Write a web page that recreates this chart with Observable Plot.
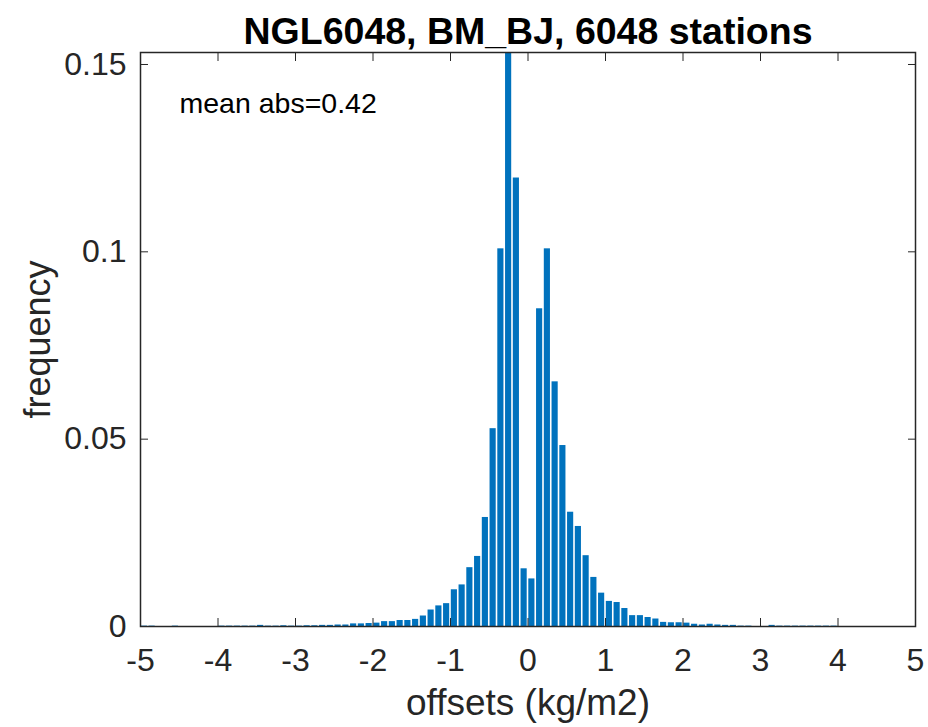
<!DOCTYPE html>
<html><head><meta charset="utf-8">
<script src="https://cdn.jsdelivr.net/npm/d3@7"></script>
<script src="https://cdn.jsdelivr.net/npm/@observablehq/plot@0.6"></script>
<style>body{margin:0;background:#fff}</style>
</head><body><div id="chart"></div>
<script>
const titleText = "NGL6048, BM_BJ, 6048 stations";
const xLabel = "offsets (kg/m2)";
const yLabel = "frequency";
const note = "mean abs=0.42";
const xTicks = [-5, -4, -3, -2, -1, 0, 1, 2, 3, 4, 5];
const yTicks = [0, 0.05, 0.1, 0.15];
// bin left edges -5.0 ... -0.1
const freqNeg = [0.0001, 0.0001, 0, 0, 0.0001, 0, 0, 0, 0, 0,
  0.0001, 0.0001, 0.0001, 0.0001, 0.0001, 0.0003, 0.0001, 0.0001, 0.0002, 0.0001,
  0.0001, 0.0002, 0.0002, 0.0003, 0.0003, 0.0004, 0.0004, 0.0007, 0.0007, 0.0008,
  0.0009, 0.0013, 0.0013, 0.0016, 0.0016, 0.0019, 0.0028, 0.0044, 0.0055, 0.0061,
  0.0098, 0.0111, 0.0157, 0.0187, 0.0291, 0.0528, 0.1008, 0.1532, 0.1197, 0.0154];
// bin left edges 0.0 ... 4.9
const freqPos = [0.0127, 0.0848, 0.1008, 0.0653, 0.0483, 0.0305, 0.0267, 0.0189, 0.0131, 0.0089,
  0.0067, 0.0064, 0.0048, 0.0029, 0.0029, 0.0024, 0.0020, 0.0011, 0.0010, 0.0010,
  0.0009, 0.0006, 0.0004, 0.0006, 0.0004, 0.0003, 0.0003, 0.0001, 0.0001, 0,
  0, 0.0003, 0.0001, 0.0001, 0.0001, 0.0001, 0.0001, 0.0001, 0.0001, 0.0001,
  0, 0, 0, 0, 0, 0, 0, 0, 0, 0];
const binWidth = 0.1;
const freq = freqNeg.concat(freqPos);
const data = freq.map((f, i) => ({x1: -5 + i * binWidth, x2: -5 + (i + 1) * binWidth, f}));

const font = "Liberation Sans, Arial, Helvetica, sans-serif";
const ink = "#262626";
const chart = Plot.plot({
  width: 928, height: 727,
  marginLeft: 140, marginRight: 13, marginTop: 52, marginBottom: 101,
  style: {fontFamily: font, fontSize: "32px", color: ink, background: "#fff", overflow: "visible"},
  x: {domain: [-5, 5]},
  y: {domain: [0, 0.1532]},
  marks: [
    Plot.rectY(data, {x1: "x1", x2: "x2", y: "f", fill: "#0072BD", insetLeft: 0.8, insetRight: 0.8}),
    Plot.axisX({ticks: xTicks, tickSize: -8, tickPadding: 30, tickFormat: d => String(d), label: null, fontSize: 32, stroke: ink}),
    Plot.axisX({anchor: "top", ticks: xTicks, tickSize: -8, tickFormat: () => "", label: null, stroke: ink}),
    Plot.axisY({ticks: yTicks, tickSize: -8, tickPadding: 22, tickFormat: d => String(d), label: null, fontSize: 32, stroke: ink}),
    Plot.axisY({anchor: "right", ticks: yTicks, tickSize: -8, tickFormat: () => "", label: null, stroke: ink}),
    Plot.frame({stroke: ink, strokeWidth: 1.5}),
    Plot.text([titleText], {frameAnchor: "top", dy: -35, text: d => d, fontSize: 37.5, fontWeight: "bold", fill: "#000"}),
    Plot.text([xLabel], {frameAnchor: "bottom", dy: 88, text: d => d, fontSize: 37, fill: ink}),
    Plot.text([yLabel], {frameAnchor: "left", dx: -102, rotate: -90, textAnchor: "middle", text: d => d, fontSize: 36, fill: ink}),
    Plot.text([note], {frameAnchor: "top-left", dx: 39, dy: 40, textAnchor: "start", text: d => d, fontSize: 28.5, fill: "#000"})
  ]
});
document.getElementById("chart").appendChild(chart);
</script>
</body></html>
